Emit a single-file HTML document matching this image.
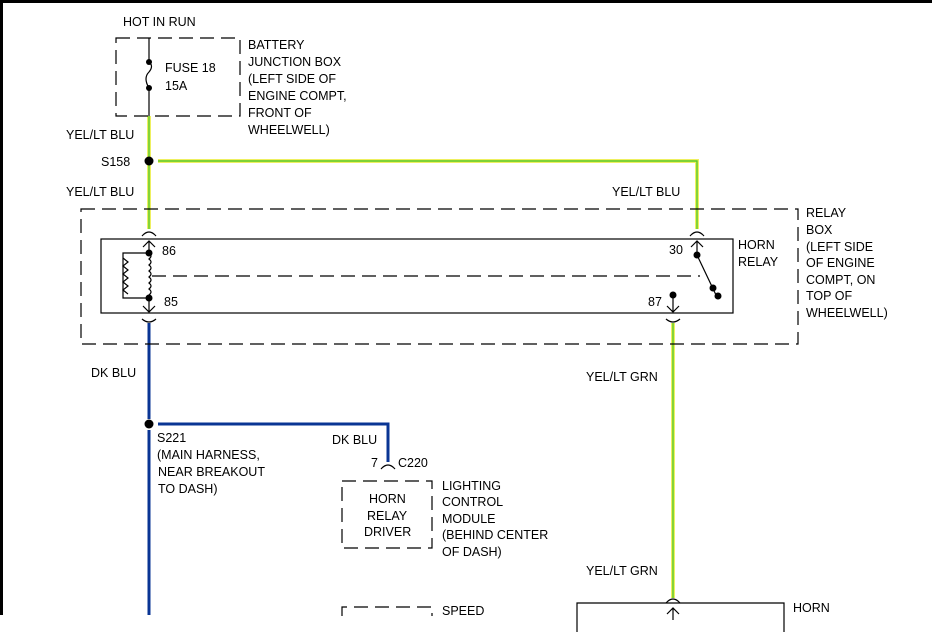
<!DOCTYPE html>
<html><head><style>
html,body{margin:0;padding:0;background:#fff}
svg{display:block}
text{font-family:"Liberation Sans",Arial,sans-serif;font-size:12.5px;fill:#000}
</style></head><body>
<svg width="932" height="632" viewBox="0 0 932 632" xmlns="http://www.w3.org/2000/svg">
<rect x="0" y="0" width="932" height="3" fill="#000"/>
<rect x="0" y="0" width="3" height="615" fill="#000"/>
<g fill="none" stroke-linecap="butt">
<path d="M149 116 V229 M158 161 H697 V229 M673 323 V598" stroke="#eef060" stroke-width="4"/>
<path d="M149 116 V229 M158 161 H697 V229 M673 323 V598" stroke="#58c828" stroke-width="1.4"/>
<path d="M149 323 V419 M149 430 V615 M158 424 H388 V462" stroke="#0a3594" stroke-width="3"/>
</g>
<g fill="none" stroke="#000" stroke-width="1.2">
<rect x="116" y="38" width="124" height="78" stroke-dasharray="14,7"/>
<line x1="149" y1="38" x2="149" y2="62"/>
<line x1="149" y1="88" x2="149" y2="116"/>
<path d="M149 62 q5 4 0 10 q-6 6 0 16"/>
<rect x="81" y="209" width="717" height="135" stroke-dasharray="14,7"/>
<rect x="101" y="239" width="632" height="74"/>
<line x1="152" y1="276" x2="700" y2="276" stroke-dasharray="14,7"/>
<path d="M142 236 q7 -8 14 0"/>
<path d="M143 247 l6 -6 l6 6 M149 241 v12"/>
<path d="M149 253 q4 3 0 6 q4 3 0 6 q4 3 0 6 q4 3 0 6 q4 3 0 6 q4 3 0 6 q4 3 0 6 q4 3 0 6"/>
<path d="M149 253 h-26 v45 h26"/>
<path d="M123 258 l5 4 l-5 4 l5 4 l-5 4 l5 4 l-5 4 l5 4 l-5 4 l5 4"/>
<path d="M149 298 v14 M143 306 l6 6 l6 -6"/>
<path d="M142 319 q7 6 14 0"/>
<path d="M690 236 q7 -8 14 0"/>
<path d="M691 247 l6 -6 l6 6 M697 241 v14"/>
<line x1="697" y1="255" x2="716" y2="295"/>
<path d="M673 295 v17 M667 306 l6 6 l6 -6"/>
<path d="M666 319 q7 6 14 0"/>
<path d="M381 469 q7 -8 14 0"/>
<rect x="342" y="481" width="90" height="67" stroke-dasharray="14,7"/>
<path d="M342 616 V607 H432 V616" stroke-dasharray="14,7"/>
<path d="M666 603 q7 -8 14 0"/>
<path d="M577 632 V603 H784 V632"/>
<path d="M667 614 l6 -6 l6 6 M673 608 v12"/>
</g>
<g fill="#000">
<circle cx="149" cy="62" r="3"/><circle cx="149" cy="88" r="3"/>
<circle cx="149" cy="253" r="3.5"/><circle cx="149" cy="298" r="3.5"/>
<circle cx="697" cy="255" r="3.5"/><circle cx="713" cy="288" r="3.5"/><circle cx="718" cy="296" r="3.5"/>
<circle cx="673" cy="295" r="3.5"/>
<circle cx="149" cy="161" r="4.5"/><circle cx="149" cy="424" r="4.5"/>
</g>
<text x="123" y="26">HOT IN RUN</text>
<text x="165" y="72">FUSE 18</text>
<text x="165" y="90">15A</text>
<text x="248" y="49">BATTERY</text>
<text x="248" y="66">JUNCTION BOX</text>
<text x="248" y="83">(LEFT SIDE OF</text>
<text x="248" y="100">ENGINE COMPT,</text>
<text x="248" y="117">FRONT OF</text>
<text x="248" y="134">WHEELWELL)</text>
<text x="66" y="139">YEL/LT BLU</text>
<text x="101" y="166">S158</text>
<text x="66" y="196">YEL/LT BLU</text>
<text x="612" y="196">YEL/LT BLU</text>
<text x="806" y="217">RELAY</text>
<text x="806" y="234">BOX</text>
<text x="806" y="251">(LEFT SIDE</text>
<text x="806" y="267">OF ENGINE</text>
<text x="806" y="284">COMPT, ON</text>
<text x="806" y="300">TOP OF</text>
<text x="806" y="317">WHEELWELL)</text>
<text x="738" y="249">HORN</text>
<text x="738" y="266">RELAY</text>
<text x="162" y="255">86</text>
<text x="164" y="306">85</text>
<text x="669" y="254">30</text>
<text x="648" y="306">87</text>
<text x="91" y="377">DK BLU</text>
<text x="586" y="381">YEL/LT GRN</text>
<text x="157" y="442">S221</text>
<text x="157" y="459">(MAIN HARNESS,</text>
<text x="158" y="476">NEAR BREAKOUT</text>
<text x="158" y="493">TO DASH)</text>
<text x="332" y="444">DK BLU</text>
<text x="371" y="467">7</text>
<text x="398" y="467">C220</text>
<text x="369" y="503">HORN</text>
<text x="367" y="520">RELAY</text>
<text x="364" y="536">DRIVER</text>
<text x="442" y="490">LIGHTING</text>
<text x="442" y="506">CONTROL</text>
<text x="442" y="523">MODULE</text>
<text x="442" y="539">(BEHIND CENTER</text>
<text x="442" y="556">OF DASH)</text>
<text x="586" y="575">YEL/LT GRN</text>
<text x="442" y="615">SPEED</text>
<text x="793" y="612">HORN</text>
</svg>
</body></html>
